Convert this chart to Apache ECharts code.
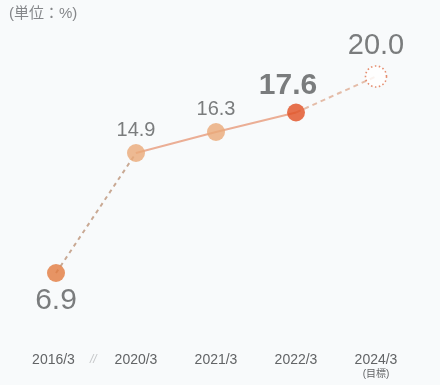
<!DOCTYPE html>
<html>
<head>
<meta charset="utf-8">
<script src="https://cdn.jsdelivr.net/npm/echarts@6/dist/echarts.min.js"></script>
<style>
  html, body { margin: 0; padding: 0; background: #f8fafb; }
  #chart { width: 440px; height: 385px; }
</style>
</head>
<body>
<div id="chart"></div>
<script>
// Fiscal-year categories and ratio values (%)
const categories = ['2016/3', '2020/3', '2021/3', '2022/3', '2024/3'];
const values = [6.9, 14.9, 16.3, 17.6, 20.0];
const targetNote = '(目標)';
const unitText = '(単位：%)';

const FONT = '"Liberation Sans", "Noto Sans CJK JP", sans-serif';
const TEXT = '#5a5c5e';

// Segments: dashed (2016 -> 2020), solid (2020 -> 2022), dashed target (2022 -> 2024)
const gapSegment = values.map((v, i) => (i <= 1 ? v : null));
const actualSegment = values.map((v, i) => (i >= 1 && i <= 3 ? v : null));
const targetSegment = values.map((v, i) => (i >= 3 ? v : null));

const pointStyles = [
  { color: '#e27b3f', size: 18, label: { fontSize: 30, position: 'bottom', distance: 4 } },
  { color: '#eaa978', size: 18, label: { fontSize: 20, position: 'top', distance: 4 } },
  { color: '#eaa978', size: 18, label: { fontSize: 20, position: 'top', distance: 4 } },
  { color: '#e14f22', size: 18, label: { fontSize: 30, fontWeight: 'bold', position: 'top', distance: 3, offset: [-8, 0] } },
  { color: '#ffffff', size: 21, dotted: true, label: { fontSize: 29, position: 'top', distance: 5 } }
];

const points = values.map((v, i) => {
  const s = pointStyles[i];
  return {
    value: v,
    symbolSize: s.size,
    itemStyle: s.dotted
      ? { color: '#ffffff', borderColor: '#e0704a', borderWidth: 1.6, borderType: [1.5, 2.5] }
      : { color: s.color },
    label: Object.assign({ show: true, color: TEXT, fontFamily: FONT,
      formatter: (p) => p.value.toFixed(1) }, s.label)
  };
});

const chart = echarts.init(document.getElementById('chart'), null, { renderer: 'canvas' });
chart.setOption({
  backgroundColor: '#f8fafb',
  animation: false,
  grid: { left: 16, right: 24, top: 46.5, bottom: 38.5 },
  xAxis: {
    type: 'category',
    data: categories,
    boundaryGap: true,
    axisLine: { show: false },
    axisTick: { show: false },
    axisLabel: {
      margin: 7,
      color: '#626466',
      fontSize: 14,
      fontFamily: FONT,
      interval: 0,
      formatter: (v) => {
        if (v === categories[0]) return '{s|' + v + '}';
        if (v === categories[categories.length - 1]) return v + '\n{t|' + targetNote + '}';
        return v;
      },
      rich: {
        s: { fontSize: 14, color: '#626466', fontFamily: FONT, padding: [0, 5, 0, 0] },
        t: { fontSize: 10, color: '#626466', fontFamily: FONT, lineHeight: 13 }
      }
    }
  },
  yAxis: {
    type: 'value',
    min: 2,
    max: 22,
    show: false,
    splitLine: { show: false }
  },
  series: [
    {
      type: 'line', data: gapSegment, symbol: 'none', silent: true,
      lineStyle: { color: '#c9a994', width: 2, type: [4, 4] }
    },
    {
      type: 'line', data: actualSegment, symbol: 'none', silent: true,
      lineStyle: { color: '#ebae95', width: 2 }
    },
    {
      type: 'line', data: targetSegment, symbol: 'none', silent: true,
      lineStyle: { color: '#e4bca8', width: 2, type: [5, 4] }
    },
    {
      type: 'scatter', data: points, z: 5
    }
  ],
  graphic: [
    {
      type: 'text', left: 9, top: 6,
      style: { text: unitText, fill: '#85878a', fontSize: 15, fontFamily: FONT }
    },
    {
      type: 'text', left: 90, top: 354,
      style: { text: '//', fill: '#c4c6c8', fontSize: 12, fontStyle: 'italic', fontFamily: FONT }
    }
  ]
});
</script>
</body>
</html>
